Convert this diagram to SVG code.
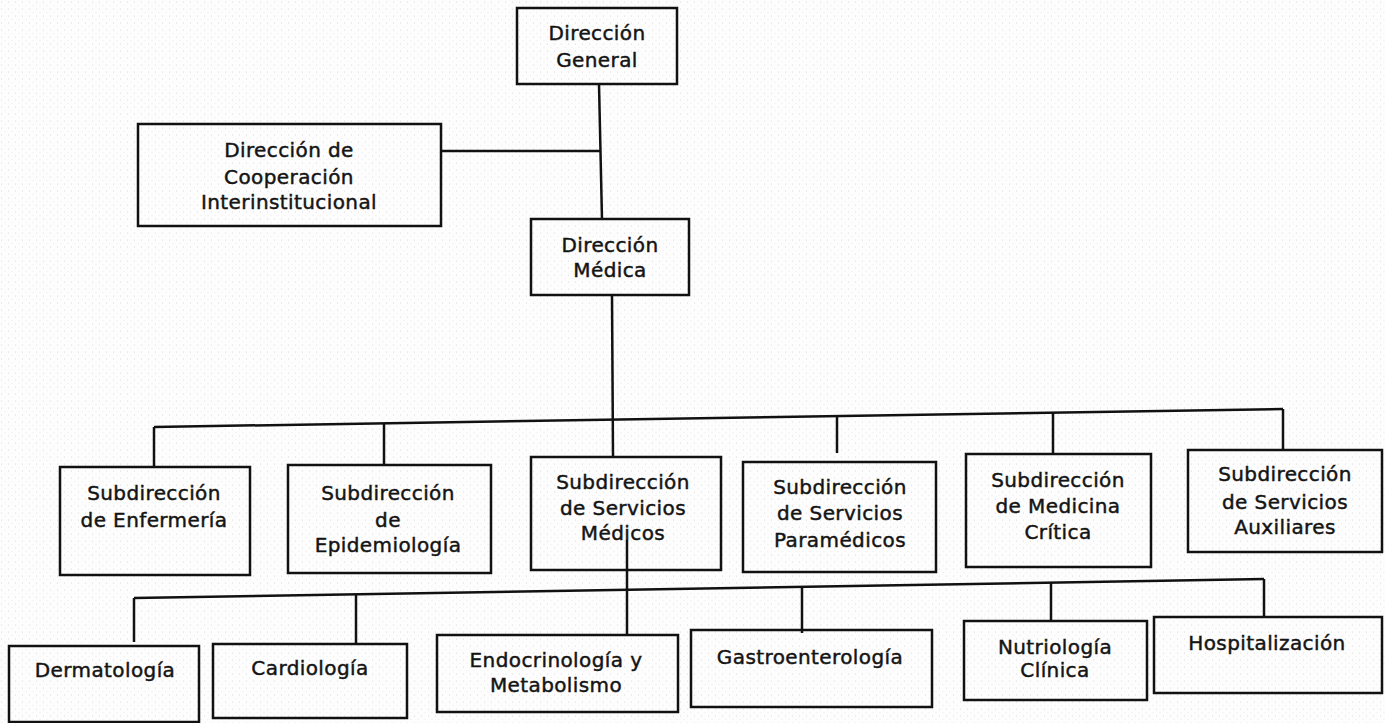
<svg xmlns="http://www.w3.org/2000/svg" width="1385" height="723" viewBox="0 0 1385 723">
<defs>
<style>
.box{fill:none;stroke:#111;stroke-width:2.5}
.ln{stroke:#111;stroke-width:2.5;fill:none}
text{font-family:"DejaVu Sans","Liberation Sans",sans-serif;font-size:20px;fill:#141414;stroke:#141414;stroke-width:0.45;text-anchor:middle;letter-spacing:0.4px}
</style>
<pattern id="grain" width="7" height="7" patternUnits="userSpaceOnUse">
<circle cx="1.5" cy="2" r="0.5" fill="#cfcfcf"/>
<circle cx="5" cy="5.5" r="0.45" fill="#d8d8d8"/>
</pattern>
</defs>
<rect width="1385" height="723" fill="#fdfdfd"/>
<rect width="1385" height="723" fill="url(#grain)"/>
<g id="connectors">
<line class="ln" x1="599" y1="84" x2="602" y2="220"/>
<line class="ln" x1="441" y1="151" x2="600" y2="151"/>
<line class="ln" x1="612" y1="295" x2="613" y2="457"/>
<line class="ln" x1="154" y1="427" x2="1283" y2="409"/>
<line class="ln" x1="154" y1="427" x2="154" y2="467"/>
<line class="ln" x1="384" y1="423" x2="384" y2="465"/>
<line class="ln" x1="837" y1="416" x2="837" y2="453"/>
<line class="ln" x1="1053" y1="412" x2="1053" y2="454"/>
<line class="ln" x1="1283" y1="409" x2="1283" y2="450"/>
<line class="ln" x1="627" y1="540" x2="627" y2="635"/>
<line class="ln" x1="134" y1="598" x2="1264" y2="579"/>
<line class="ln" x1="134" y1="598" x2="134" y2="642"/>
<line class="ln" x1="356" y1="594" x2="356" y2="644"/>
<line class="ln" x1="802" y1="587" x2="802" y2="633"/>
<line class="ln" x1="1051" y1="583" x2="1051" y2="621"/>
<line class="ln" x1="1264" y1="579" x2="1264" y2="617"/>
</g>
<g id="direccion-general">
<rect class="box" x="517" y="8" width="160" height="76"/>
<text x="597" y="40">Dirección</text>
<text x="597" y="67">General</text>
</g>
<g id="direccion-cooperacion">
<rect class="box" x="138" y="124" width="303" height="102"/>
<text x="289" y="157">Dirección de</text>
<text x="289" y="184">Cooperación</text>
<text x="289" y="209">Interinstitucional</text>
</g>
<g id="direccion-medica">
<rect class="box" x="531" y="219" width="158" height="76"/>
<text x="610" y="252">Dirección</text>
<text x="610" y="277">Médica</text>
</g>
<g id="sub-enfermeria">
<rect class="box" x="60" y="467" width="190" height="108"/>
<text x="154" y="500">Subdirección</text>
<text x="154" y="527">de Enfermería</text>
</g>
<g id="sub-epidemiologia">
<rect class="box" x="288" y="465" width="203" height="108"/>
<text x="388" y="500">Subdirección</text>
<text x="388" y="527">de</text>
<text x="388" y="552">Epidemiología</text>
</g>
<g id="sub-servicios-medicos">
<rect class="box" x="531" y="457" width="190" height="113"/>
<text x="623" y="489">Subdirección</text>
<text x="623" y="515">de Servicios</text>
<text x="623" y="540">Médicos</text>
</g>
<g id="sub-paramedicos">
<rect class="box" x="743" y="462" width="193" height="110"/>
<text x="840" y="494">Subdirección</text>
<text x="840" y="520">de Servicios</text>
<text x="840" y="547">Paramédicos</text>
</g>
<g id="sub-medicina-critica">
<rect class="box" x="966" y="454" width="185" height="113"/>
<text x="1058" y="487">Subdirección</text>
<text x="1058" y="513">de Medicina</text>
<text x="1058" y="539">Crítica</text>
</g>
<g id="sub-servicios-auxiliares">
<rect class="box" x="1188" y="450" width="194" height="102"/>
<text x="1285" y="481">Subdirección</text>
<text x="1285" y="509">de Servicios</text>
<text x="1285" y="534">Auxiliares</text>
</g>
<g id="dermatologia">
<rect class="box" x="9" y="646" width="190" height="76"/>
<text x="105" y="677">Dermatología</text>
</g>
<g id="cardiologia">
<rect class="box" x="213" y="644" width="194" height="74"/>
<text x="310" y="675">Cardiología</text>
</g>
<g id="endocrinologia">
<rect class="box" x="437" y="635" width="241" height="77"/>
<text x="556" y="667">Endocrinología y</text>
<text x="556" y="692">Metabolismo</text>
</g>
<g id="gastroenterologia">
<rect class="box" x="691" y="630" width="241" height="77"/>
<text x="810" y="664">Gastroenterología</text>
</g>
<g id="nutriologia">
<rect class="box" x="964" y="621" width="183" height="79"/>
<text x="1055" y="654">Nutriología</text>
<text x="1055" y="677">Clínica</text>
</g>
<g id="hospitalizacion">
<rect class="box" x="1154" y="617" width="228" height="76"/>
<text x="1267" y="650">Hospitalización</text>
</g>
</svg>
